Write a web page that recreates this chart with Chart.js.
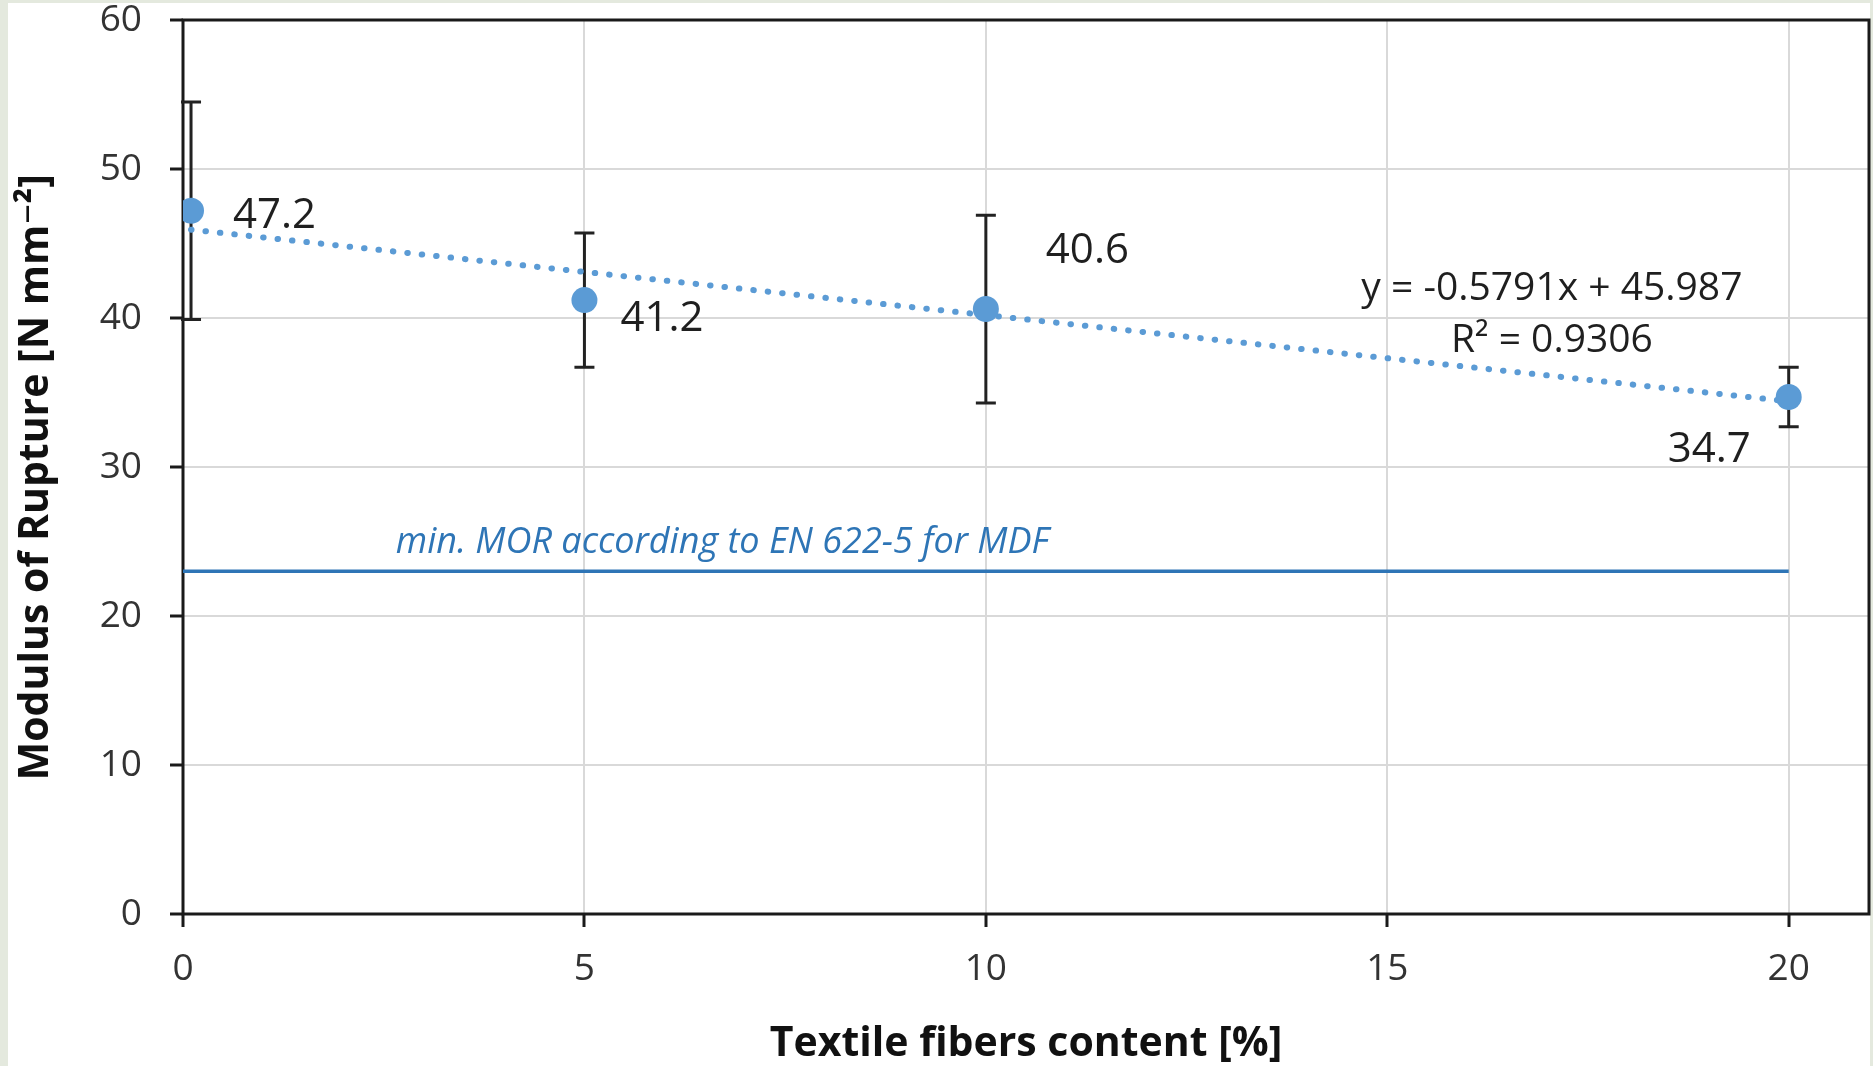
<!DOCTYPE html>
<html>
<head>
<meta charset="utf-8">
<script src="https://cdn.jsdelivr.net/npm/chart.js@4.4.1/dist/chart.umd.min.js"></script>
<style>
    html, body { margin: 0; padding: 0; background: #e4e9de; }
    #wrap { position: absolute; left: 0; top: 0; width: 1873px; height: 1066px; }
</style>
</head>
<body>
<div id="wrap"><canvas id="morChart" width="1873" height="1066"></canvas></div>
<script>
// data
var fiberContent = [0.1, 5, 10, 20];
var morValues = [47.2, 41.2, 40.6, 34.7];
var morErrors = [7.3, 4.5, 6.3, 2.0];
var minMor = 23;
var minMorRange = [0, 20];
var trendSlope = -0.5791;
var trendIntercept = 45.987;
var trendR2 = 0.9306;
var xTicks = [0, 5, 10, 15, 20];
var yTicks = [0, 10, 20, 30, 40, 50, 60];

var fontFamily = '"Open Sans", "DejaVu Sans", sans-serif';
var pointBlue = '#5b9bd5';
var lineBlue = '#2e75b6';

var bgPlugin = {
    id: 'pageBg',
    beforeDraw: function(chart) {
        var ctx = chart.ctx;
        ctx.save();
        ctx.fillStyle = '#e4e9de';
        ctx.fillRect(0, 0, chart.width, chart.height);
        ctx.fillStyle = '#ffffff';
        ctx.fillRect(8, 3, chart.width - 11, chart.height - 3);
        ctx.restore();
    }
};

// plot frame + error bars, under the markers
var frameErrPlugin = {
    id: 'frameErr',
    beforeDatasetsDraw: function(chart) {
        var ctx = chart.ctx, a = chart.chartArea;
        var xs = chart.scales.x, ys = chart.scales.y;
        ctx.save();
        ctx.strokeStyle = '#1a1a1a';
        ctx.lineWidth = 3;
        ctx.strokeRect(a.left, a.top, a.right - a.left, a.bottom - a.top);
        ctx.lineWidth = 3;
        ctx.strokeStyle = '#222';
        for (var i = 0; i < fiberContent.length; i++) {
            var px = xs.getPixelForValue(fiberContent[i]);
            var hi = ys.getPixelForValue(morValues[i] + morErrors[i]);
            var lo = ys.getPixelForValue(morValues[i] - morErrors[i]);
            ctx.beginPath();
            ctx.moveTo(px, hi); ctx.lineTo(px, lo);
            ctx.moveTo(px - 10, hi); ctx.lineTo(px + 10, hi);
            ctx.moveTo(px - 10, lo); ctx.lineTo(px + 10, lo);
            ctx.stroke();
        }
        ctx.restore();
    }
};

// data labels, trendline equation, standard label
var textPlugin = {
    id: 'texts',
    afterDatasetsDraw: function(chart, args, opts) {
        var ctx = chart.ctx;
        var xs = chart.scales.x, ys = chart.scales.y;
        ctx.save();
        ctx.textBaseline = 'alphabetic';
        ctx.fillStyle = '#1f1f1f';
        ctx.font = '42px ' + fontFamily;
        for (var i = 0; i < morValues.length; i++) {
            var off = opts.labelOffsets[i];
            ctx.textAlign = off[2];
            ctx.fillText(morValues[i].toFixed(1),
                xs.getPixelForValue(fiberContent[i]) + off[0],
                ys.getPixelForValue(morValues[i]) + off[1]);
        }

        ctx.font = '39px ' + fontFamily;
        ctx.textAlign = 'center';
        var ex = xs.getPixelForValue(opts.eqAt[0]);
        var ey = ys.getPixelForValue(opts.eqAt[1]);
        ctx.fillText('y = ' + trendSlope + 'x + ' + trendIntercept, ex, ey);
        ctx.fillText('R\u00b2 = ' + trendR2, ex, ey + 52);

        ctx.font = 'italic 36px ' + fontFamily;
        ctx.fillStyle = lineBlue;
        ctx.textAlign = 'left';
        ctx.fillText('min. MOR according to EN 622-5 for MDF',
            xs.getPixelForValue(opts.minLabelX), ys.getPixelForValue(minMor) - 18);
        ctx.restore();
    }
};

var trendData = [fiberContent[0], fiberContent[fiberContent.length - 1]].map(function(x) {
    return { x: x, y: trendIntercept + trendSlope * x };
});

new Chart(document.getElementById('morChart'), {
    type: 'scatter',
    data: {
        datasets: [
            {
                label: 'MOR',
                data: fiberContent.map(function(x, i) { return { x: x, y: morValues[i] }; }),
                backgroundColor: pointBlue,
                borderColor: pointBlue,
                pointRadius: 13,
                pointBorderWidth: 0,
                showLine: false
            },
            {
                label: 'Linear trend',
                type: 'line',
                data: trendData,
                borderColor: pointBlue,
                borderWidth: 6,
                borderDash: [0.5, 14],
                borderCapStyle: 'round',
                pointRadius: 0,
                fill: false
            },
            {
                label: 'min. MOR EN 622-5',
                type: 'line',
                data: minMorRange.map(function(x) { return { x: x, y: minMor }; }),
                borderColor: lineBlue,
                borderWidth: 3.5,
                pointRadius: 0,
                fill: false
            }
        ]
    },
    options: {
        responsive: false,
        devicePixelRatio: 1,
        animation: false,
        layout: { autoPadding: false, padding: { left: 8, top: 20, right: 4, bottom: 0 } },
        plugins: {
            legend: { display: false },
            tooltip: { enabled: false },
            texts: {
                labelOffsets: [[42, 17, 'left'], [36, 31, 'left'], [60, -46, 'left'], [-38, 65, 'right']],
                eqAt: [17.05, 41.2],
                minLabelX: 2.65
            }
        },
        scales: {
            x: {
                type: 'linear',
                position: 'bottom',
                min: 0,
                max: 21,
                afterBuildTicks: function(axis) {
                    axis.ticks = xTicks.map(function(v) { return { value: v }; });
                },
                afterFit: function(scale) {
                    scale.height = 152;
                    scale.paddingLeft = 0;
                    scale.paddingRight = 0;
                },
                grid: { color: '#d9d9d9', lineWidth: 2, tickLength: 13, tickColor: '#1a1a1a', tickWidth: 3 },
                border: { display: false },
                ticks: {
                    color: '#333',
                    padding: 22,
                    font: { family: fontFamily, size: 37, lineHeight: 1.1 }
                },
                title: {
                    display: true,
                    text: 'Textile fibers content [%]',
                    color: '#111',
                    font: { family: fontFamily, size: 41, weight: 'bold' },
                    padding: { top: 0, bottom: -3 }
                }
            },
            y: {
                type: 'linear',
                min: 0,
                max: 60,
                afterBuildTicks: function(axis) {
                    axis.ticks = yTicks.map(function(v) { return { value: v }; });
                },
                afterFit: function(scale) {
                    scale.width = 175;
                    scale.paddingTop = 20;
                    scale.paddingBottom = 20;
                },
                grid: { color: '#d9d9d9', lineWidth: 2, tickLength: 13, tickColor: '#1a1a1a', tickWidth: 3 },
                border: { display: false },
                ticks: {
                    color: '#333',
                    padding: 28,
                    font: { family: fontFamily, size: 37, lineHeight: 1.1 }
                },
                title: {
                    display: true,
                    text: 'Modulus of Rupture [N mm\u207b\u00b2]\u2002',
                    color: '#111',
                    font: { family: fontFamily, size: 41, weight: 'bold' },
                    padding: { top: 4, bottom: 0 }
                }
            }
        }
    },
    plugins: [bgPlugin, frameErrPlugin, textPlugin]
});
</script>
</body>
</html>
